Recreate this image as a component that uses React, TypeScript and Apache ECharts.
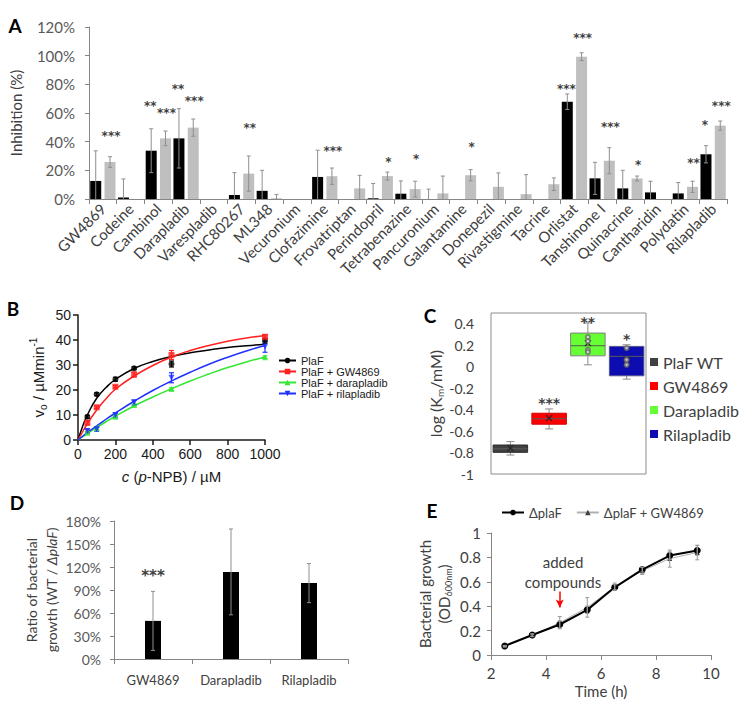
import React, { useEffect, useRef } from 'react';
import * as echarts from 'echarts';

const FONT = 'Lato, "Open Sans", sans-serif';
const ARIAL = '"Liberation Sans", Arial, sans-serif';
const STARFONT = '"DejaVu Sans", sans-serif';

// ---------- Panel A ----------
const drugs = ['GW4869', 'Codeine', 'Cambinol', 'Darapladib', 'Varespladib', 'RHC80267', 'ML348', 'Vecuronium', 'Clofazimine', 'Frovatriptan', 'Perindopril', 'Tetrabenazine', 'Pancuronium', 'Galantamine', 'Donepezil', 'Rivastigmine', 'Tacrine', 'Orlistat', 'Tanshinone I', 'Quinacrine', 'Cantharidin', 'Polydatin', 'Rilapladib'];
const inhibBlack = [12.6, 1, 33.7, 42.3, 0, 2.8, 5.7, 0, 15.4, 0, 0.5, 3.7, 0, 0, 0, 0, 0, 67.9, 14.4, 7.4, 4.6, 3.9, 31.2];
const inhibBlackErr = [21, 13, 15.3, 20.7, 0, 15.6, 14.3, 0, 18.6, 0, 10.3, 8.9, 6.9, 0, 0, 0, 0, 5.4, 11.2, 12.6, 7.8, 7.6, 6];
const inhibGray = [25.8, 0, 42.3, 49.8, 0, 17.7, 0.5, 0, 15.9, 7.4, 16, 6.9, 3.9, 16.6, 8.5, 3.4, 10.3, 99.3, 26.7, 14.3, 0, 8.5, 51.2];
const inhibGrayErr = [3.7, 0, 5.1, 6, 0, 12.3, 2.7, 0, 5.7, 9.1, 2.8, 5.5, 12.1, 3.9, 9.7, 13.6, 4.4, 2.7, 9.1, 1.7, 0, 3.9, 3.2];
// significance marks: [drug index, bar (0 black / 1 gray), mark, level in %]
const sigA: [number, number, string, number][] = [
  [0, 1, '***', 46.5], [2, 0, '**', 67.2], [2, 1, '***', 62.2], [3, 0, '**', 78.8], [3, 1, '***', 70.7],
  [5, 1, '**', 51.6], [8, 1, '***', 35.6], [10, 1, '*', 27.9], [11, 1, '*', 30.2], [13, 1, '*', 38.4],
  [17, 0, '***', 79], [17, 1, '***', 114.9], [18, 1, '***', 52.5], [19, 1, '*', 25.8], [21, 1, '**', 27.2],
  [22, 0, '*', 53.7], [22, 1, '***', 67],
];
const BAR_W = 11;
const BAR_GAP = 0.3;
const barOff = (BAR_W * (1 + BAR_GAP)) / 2;

// ---------- Panel B ----------
const concB = [50, 100, 200, 300, 500, 1000];
const vPlaF = [9.3, 18.3, 24.3, 28.7, 30.4, 39.7];
const vPlaFErr = [0.6, 0.6, 0.8, 0.6, 1.2, 1];
const vGW = [6.9, 13.1, 21.3, 26.2, 34, 41.3];
const vGWErr = [0.8, 0.5, 0.5, 1, 1.8, 0.8];
const vDara = [2.9, 4.7, 9.3, 14, 20.4, 33.1];
const vDaraErr = [0.5, 0.5, 0.6, 0.5, 0.5, 0.5];
const vRila = [3.6, 4.3, 10, 15, 24.9, 37.3];
const vRilaErr = [0.8, 0.8, 0.8, 1, 2, 2.2];
const fitX = [0, 25, 50, 100, 150, 200, 300, 400, 500, 600, 700, 800, 900, 1000];
const fitPlaF = [0, 5.5, 10, 16.7, 21, 24.2, 28.6, 31.4, 33.4, 34.9, 36, 37, 37.7, 38.3];
const fitGW = [0, 3.3, 6.5, 12, 16.5, 20.3, 25.6, 29.8, 33.2, 35.8, 37.8, 39.5, 40.8, 41.8];
const fitDara = [0, 1.3, 2.6, 5, 7.3, 9.5, 13.6, 17.2, 20.5, 23.6, 26.4, 29, 31.2, 33.2];
const fitRila = [0, 1.5, 2.9, 5.7, 8.3, 10.8, 15.5, 19.8, 23.6, 27.1, 30.3, 33.1, 35.6, 37.8];
const legendB = ['PlaF', 'PlaF + GW4869', 'PlaF + darapladib', 'PlaF + rilapladib'];

// ---------- Panel C ----------
const groupsC = ['PlaF WT', 'GW4869', 'Darapladib', 'Rilapladib'];
// [min, q1, median, q3, max, mean]
const boxC = [
  [-0.823, -0.798, -0.765, -0.73, -0.698, -0.757],
  [-0.58, -0.536, -0.485, -0.434, -0.394, -0.48],
  [0.017, 0.101, 0.195, 0.313, 0.407, 0.22],
  [-0.116, -0.085, 0.096, 0.189, 0.204, 0.064],
];
const pointsC = [[2, 0.276], [2, 0.236], [2, 0.157], [2, 0.136], [3, 0.173], [3, 0.064], [3, 0.017]];
const sigC: [number, string, number][] = [[1, '***', -0.3], [2, '**', 0.453], [3, '*', 0.297]];

// ---------- Panel D ----------
const catsD = ['GW4869', 'Darapladib', 'Rilapladib'];
const ratioD = [49.7, 113.6, 99];
const ratioDErr = [38.5, 56, 25.5];
const sigD: [number, string, number][] = [[0, '***', 114]];

// ---------- Panel E ----------
const timeE = [2.5, 3.5, 4.5, 5.5, 6.5, 7.5, 8.5, 9.5];
const odPlaF = [0.074, 0.164, 0.25, 0.37, 0.555, 0.7, 0.815, 0.857];
const odPlaFErr = [0.005, 0.01, 0.03, 0.03, 0.02, 0.02, 0.03, 0.04];
const odGW = [0.07, 0.16, 0.265, 0.39, 0.56, 0.69, 0.79, 0.84];
const odGWErr = [0.005, 0.01, 0.05, 0.08, 0.03, 0.03, 0.07, 0.06];

// ---------- helpers ----------
const errRender = (offsets: number[], cap: number, color: string, clampMin: number | null, width = 1) =>
  (params: any, api: any) => {
    const x = api.value(0);
    const m = api.value(1);
    const e = api.value(2);
    const s = api.value(3) || 0;
    if (!(e > 0)) return null;
    let lo = m - e;
    let clipped = false;
    if (clampMin != null && lo < clampMin) { lo = clampMin; clipped = true; }
    const pTop = api.coord([x, m + e]);
    const pBot = api.coord([x, lo]);
    const cx = pTop[0] + (offsets[s] || 0);
    const st = { stroke: color, lineWidth: width };
    const children: any[] = [
      { type: 'line', shape: { x1: cx, y1: pTop[1], x2: cx, y2: pBot[1] }, style: st },
      { type: 'line', shape: { x1: cx - cap, y1: pTop[1], x2: cx + cap, y2: pTop[1] }, style: st },
    ];
    if (!clipped) children.push({ type: 'line', shape: { x1: cx - cap, y1: pBot[1], x2: cx + cap, y2: pBot[1] }, style: st });
    return { type: 'group', children };
  };

const starRender = (texts: string[], offsets: number[], size: number, color: string) =>
  (params: any, api: any) => {
    const x = api.value(0);
    const y = api.value(1);
    const s = api.value(2) || 0;
    const p = api.coord([x, y]);
    return {
      type: 'text',
      x: p[0] + (offsets[s] || 0),
      y: p[1] + size * 0.27,
      style: {
        text: texts[params.dataIndex],
        fill: color,
        fontSize: size,
        fontWeight: 'bold',
        fontFamily: STARFONT,
        lineHeight: Math.round(size * 0.5),
        align: 'center',
        verticalAlign: 'middle',
      },
    };
  };

const boxRender = (fill: string, stroke: string) => (params: any, api: any) => {
  const i = api.value(0);
  const mn = api.value(1), q1 = api.value(2), md = api.value(3), q3 = api.value(4), mx = api.value(5), mean = api.value(6);
  const bw = api.size([1, 0])[0];
  const half = bw * 0.445;
  const cx = api.coord([i, 0])[0];
  const Y = (v: number) => api.coord([i, v])[1];
  const wst = { stroke: '#8a8a8a', lineWidth: 1 };
  const cap = 4;
  return {
    type: 'group',
    children: [
      { type: 'line', shape: { x1: cx, y1: Y(mx), x2: cx, y2: Y(q3) }, style: wst },
      { type: 'line', shape: { x1: cx, y1: Y(q1), x2: cx, y2: Y(mn) }, style: wst },
      { type: 'line', shape: { x1: cx - cap, y1: Y(mx), x2: cx + cap, y2: Y(mx) }, style: wst },
      { type: 'line', shape: { x1: cx - cap, y1: Y(mn), x2: cx + cap, y2: Y(mn) }, style: wst },
      { type: 'rect', shape: { x: cx - half, y: Y(q3), width: 2 * half, height: Y(q1) - Y(q3) }, style: { fill, stroke, lineWidth: 1 } },
      { type: 'line', shape: { x1: cx - half, y1: Y(md), x2: cx + half, y2: Y(md) }, style: { stroke: '#5a5a5a', lineWidth: 1 } },
      { type: 'line', shape: { x1: cx - 3, y1: Y(mean) - 3, x2: cx + 3, y2: Y(mean) + 3 }, style: { stroke: '#262626', lineWidth: 1.2 } },
      { type: 'line', shape: { x1: cx - 3, y1: Y(mean) + 3, x2: cx + 3, y2: Y(mean) - 3 }, style: { stroke: '#262626', lineWidth: 1.2 } },
    ],
  };
};

const excelAxisLine = { show: true, lineStyle: { color: '#868686', width: 1 } };
const excelTick = { show: true, length: 5, lineStyle: { color: '#868686' } };

const boxColors = [
  ['#404040', '#2a2a2a'],
  ['#ff0000', '#d00000'],
  ['#66ff33', '#7f7f7f'],
  ['#0c0cb0', '#55558a'],
];

function buildOption(): any {
  const series: any[] = [];

  // Panel A
  series.push({
    type: 'bar', xAxisIndex: 0, yAxisIndex: 0, data: inhibBlack, barWidth: BAR_W, barGap: BAR_GAP * 100 + '%',
    itemStyle: { color: '#000000' }, silent: true,
  });
  series.push({
    type: 'bar', xAxisIndex: 0, yAxisIndex: 0, data: inhibGray, barWidth: BAR_W,
    itemStyle: { color: '#bfbfbf' }, silent: true,
  });
  series.push({
    type: 'custom', xAxisIndex: 0, yAxisIndex: 0, z: 5, silent: true,
    renderItem: errRender([-barOff, barOff], 2, '#8f8f8f', 0),
    encode: { x: 0, y: 1 },
    data: [
      ...inhibBlack.map((v, i) => [i, v, inhibBlackErr[i], 0]),
      ...inhibGray.map((v, i) => [i, v, inhibGrayErr[i], 1]),
    ],
  });
  series.push({
    type: 'custom', xAxisIndex: 0, yAxisIndex: 0, z: 6, silent: true,
    renderItem: starRender(sigA.map((s) => s[2]), [-barOff - 1, barOff + 1], 12, '#404040'),
    encode: { x: 0, y: 1 },
    data: sigA.map((s) => [s[0], s[3], s[1]]),
  });

  // Panel B
  const bCols = ['#000000', '#ff2020', '#33e633', '#2030ff'];
  const bSyms = ['circle', 'rect', 'triangle', 'path://M0,0 L10,0 L5,9 Z'];
  const bPts = [vPlaF, vGW, vDara, vRila];
  const bErr = [vPlaFErr, vGWErr, vDaraErr, vRilaErr];
  const bFit = [fitPlaF, fitGW, fitDara, fitRila];
  legendB.forEach((name, k) => {
    series.push({
      type: 'line', name, xAxisIndex: 1, yAxisIndex: 1, smooth: true, showSymbol: false,
      symbol: bSyms[k], symbolSize: 6,
      lineStyle: { color: bCols[k], width: 1.5 }, itemStyle: { color: bCols[k] },
      data: fitX.map((x, i) => [x, bFit[k][i]]), silent: true, z: 3,
    });
    series.push({
      type: 'scatter', xAxisIndex: 1, yAxisIndex: 1, symbol: bSyms[k], symbolSize: 6,
      itemStyle: { color: bCols[k] }, data: concB.map((x, i) => [x, bPts[k][i]]), silent: true, z: 4,
    });
    series.push({
      type: 'custom', xAxisIndex: 1, yAxisIndex: 1, z: 4, silent: true,
      renderItem: errRender([0], 2.5, bCols[k], null, 1.2), encode: { x: 0, y: 1 },
      data: concB.map((x, i) => [x, bPts[k][i], bErr[k][i], 0]),
    });
  });

  // Panel C
  groupsC.forEach((name, k) => {
    series.push({
      type: 'custom', name, xAxisIndex: 2, yAxisIndex: 2, silent: true, z: 3,
      itemStyle: { color: boxColors[k][0], borderColor: boxColors[k][1] },
      renderItem: boxRender(boxColors[k][0], boxColors[k][1]),
      encode: { x: 0, y: [1, 2, 3, 4, 5] },
      data: [[k, ...boxC[k]]],
    });
  });
  series.push({
    type: 'scatter', xAxisIndex: 2, yAxisIndex: 2, symbol: 'emptyCircle', symbolSize: 4, z: 4, silent: true,
    itemStyle: { color: '#6a6a6a', borderWidth: 1 }, data: pointsC,
  });
  series.push({
    type: 'custom', xAxisIndex: 2, yAxisIndex: 2, z: 6, silent: true,
    renderItem: starRender(sigC.map((s) => s[1]), [0], 14, '#404040'),
    encode: { x: 0, y: 1 },
    data: sigC.map((s) => [s[0], s[2], 0]),
  });

  // Panel D
  series.push({
    type: 'bar', xAxisIndex: 3, yAxisIndex: 3, data: ratioD, barWidth: 16, itemStyle: { color: '#000000' }, silent: true,
  });
  series.push({
    type: 'custom', xAxisIndex: 3, yAxisIndex: 3, z: 5, silent: true,
    renderItem: errRender([0], 2, '#8f8f8f', 0), encode: { x: 0, y: 1 },
    data: ratioD.map((v, i) => [i, v, ratioDErr[i], 0]),
  });
  series.push({
    type: 'custom', xAxisIndex: 3, yAxisIndex: 3, z: 6, silent: true,
    renderItem: starRender(sigD.map((s) => s[1]), [0], 15, '#404040'),
    encode: { x: 0, y: 1 },
    data: sigD.map((s) => [s[0], s[2], 0]),
  });

  // Panel E
  series.push({
    type: 'line', name: 'ΔplaF + GW4869', xAxisIndex: 4, yAxisIndex: 4, symbol: 'triangle', symbolSize: 5,
    lineStyle: { color: '#b0b0b0', width: 1 }, itemStyle: { color: '#404040' },
    data: timeE.map((t, i) => [t, odGW[i]]), z: 3, silent: true,
  });
  series.push({
    type: 'line', name: 'ΔplaF', xAxisIndex: 4, yAxisIndex: 4, symbol: 'circle', symbolSize: 7,
    lineStyle: { color: '#000000', width: 2 }, itemStyle: { color: '#000000' },
    data: timeE.map((t, i) => [t, odPlaF[i]]), z: 4, silent: true,
    markLine: {
      silent: true, symbol: ['none', 'arrow'], symbolSize: [6, 8],
      lineStyle: { color: '#ff0000', width: 1.5, type: 'solid' }, label: { show: false },
      data: [[{ coord: [4.5, 0.52] }, { coord: [4.5, 0.39] }]],
    },
    markPoint: {
      silent: true, symbol: 'circle', symbolSize: 0,
      label: { show: true, position: 'inside', formatter: 'added\ncompounds', color: '#404040', fontSize: 15, lineHeight: 20, fontFamily: FONT },
      data: [{ coord: [4.62, 0.68] }],
    },
  });
  series.push({
    type: 'custom', xAxisIndex: 4, yAxisIndex: 4, z: 5, silent: true,
    renderItem: errRender([0], 2, '#9a9a9a', null), encode: { x: 0, y: 1 },
    data: [
      ...timeE.map((t, i) => [t, odPlaF[i], odPlaFErr[i], 0]),
      ...timeE.map((t, i) => [t, odGW[i], odGWErr[i], 0]),
    ],
  });

  const letter = (t: string, x: number, y: number) => ({
    type: 'text', x, y, style: { text: t, font: `bold 19px ${FONT}`, fill: '#000', align: 'center', verticalAlign: 'middle' },
  });

  return {
    animation: false,
    backgroundColor: '#ffffff',
    textStyle: { fontFamily: FONT },
    grid: [
      { left: 87, top: 27, width: 640, height: 172 },
      { left: 78, top: 315, width: 187, height: 125 },
      { left: 491, top: 313, width: 155, height: 161, show: true, borderColor: '#8c8c8c', borderWidth: 1 },
      { left: 114, top: 521, width: 234, height: 138 },
      { left: 491, top: 533, width: 220, height: 122 },
    ],
    xAxis: [
      {
        gridIndex: 0, type: 'category', data: drugs, axisLine: excelAxisLine, axisTick: excelTick,
        axisLabel: { rotate: 45, interval: 0, fontSize: 15, color: '#404040', margin: 7, fontFamily: FONT },
      },
      {
        gridIndex: 1, type: 'value', min: 0, max: 1000, interval: 200,
        axisLine: { show: true, lineStyle: { color: '#1a1a1a', width: 1.5 } },
        axisTick: { show: true, length: 5, lineStyle: { color: '#1a1a1a', width: 1.5 } },
        splitLine: { show: false },
        axisLabel: { fontSize: 14, color: '#1a1a1a', margin: 7, fontFamily: ARIAL, formatter: (v: number) => String(v) },
        name: '{i|c} ({i|p}-NPB) / µM', nameLocation: 'middle', nameGap: 29,
        nameTextStyle: {
          fontSize: 15, color: '#1a1a1a', fontFamily: ARIAL,
          rich: { i: { fontStyle: 'italic', fontSize: 15, fontFamily: ARIAL, color: '#1a1a1a' } },
        },
      },
      { gridIndex: 2, type: 'category', data: groupsC, show: false },
      {
        gridIndex: 3, type: 'category', data: catsD, axisLine: excelAxisLine, axisTick: excelTick,
        axisLabel: { interval: 0, fontSize: 13, color: '#404040', margin: 14, fontFamily: FONT },
      },
      {
        gridIndex: 4, type: 'value', min: 2, max: 10, interval: 2, axisLine: excelAxisLine, axisTick: excelTick,
        splitLine: { show: false },
        axisLabel: { fontSize: 15, color: '#404040', margin: 10, fontFamily: FONT },
        name: 'Time (h)', nameLocation: 'middle', nameGap: 28,
        nameTextStyle: { fontSize: 15, color: '#404040', fontFamily: FONT },
      },
    ],
    yAxis: [
      {
        gridIndex: 0, type: 'value', min: 0, max: 120, interval: 20, axisLine: excelAxisLine, axisTick: { ...excelTick, length: 4 },
        splitLine: { show: false },
        axisLabel: { formatter: '{value}%', fontSize: 15, color: '#595959', margin: 14, fontFamily: FONT },
        name: 'Inhibition (%)', nameLocation: 'middle', nameRotate: 90, nameGap: 66,
        nameTextStyle: { fontSize: 15, color: '#404040', fontFamily: FONT },
      },
      {
        gridIndex: 1, type: 'value', min: 0, max: 50, interval: 10,
        axisLine: { show: true, lineStyle: { color: '#1a1a1a', width: 1.5 } },
        axisTick: { show: true, length: 5, lineStyle: { color: '#1a1a1a', width: 1.5 } },
        splitLine: { show: false },
        axisLabel: { fontSize: 14, color: '#1a1a1a', margin: 7, fontFamily: ARIAL },
        name: 'v{sub|o} / µMmin{sup|-1}', nameLocation: 'middle', nameRotate: 90, nameGap: 30,
        nameTextStyle: {
          fontSize: 15, color: '#1a1a1a', fontFamily: ARIAL, lineHeight: 20,
          rich: {
            sub: { fontSize: 10, fontFamily: ARIAL, color: '#1a1a1a', verticalAlign: 'bottom', lineHeight: 12 },
            sup: { fontSize: 10, fontFamily: ARIAL, color: '#1a1a1a', verticalAlign: 'top', lineHeight: 12 },
          },
        },
      },
      {
        gridIndex: 2, type: 'value', min: -1, max: 0.5, interval: 0.2,
        axisLine: { show: false }, axisTick: { show: false }, splitLine: { show: false },
        axisLabel: {
          fontSize: 14, color: '#404040', margin: 17, fontFamily: FONT, showMaxLabel: false,
          formatter: (v: number) => (v > 0.45 ? '' : String(Math.round(v * 10) / 10)),
        },
        name: 'log (K{sub|m}/mM)', nameLocation: 'middle', nameRotate: 90, nameGap: 36,
        nameTextStyle: {
          fontSize: 16, color: '#404040', fontFamily: FONT, lineHeight: 20,
          rich: { sub: { fontSize: 10, fontFamily: FONT, color: '#404040', verticalAlign: 'bottom', lineHeight: 12 } },
        },
      },
      {
        gridIndex: 3, type: 'value', min: 0, max: 180, interval: 30, axisLine: excelAxisLine, axisTick: { ...excelTick, length: 4 },
        splitLine: { show: false },
        axisLabel: { formatter: '{value}%', fontSize: 14, color: '#595959', margin: 13, fontFamily: FONT },
        name: 'Ratio of bacterial\ngrowth (WT / {i|ΔplaF})', nameLocation: 'middle', nameRotate: 90, nameGap: 52,
        nameTextStyle: {
          fontSize: 14, color: '#404040', fontFamily: FONT, lineHeight: 20,
          rich: { i: { fontStyle: 'italic', fontSize: 14, fontFamily: FONT, color: '#404040', lineHeight: 20 } },
        },
      },
      {
        gridIndex: 4, type: 'value', min: 0, max: 1, interval: 0.2, axisLine: excelAxisLine, axisTick: { ...excelTick, length: 4 },
        splitLine: { show: false },
        axisLabel: { fontSize: 15, color: '#404040', margin: 10, fontFamily: FONT },
        name: 'Bacterial growth\n(OD{sub|600nm})', nameLocation: 'middle', nameRotate: 90, nameGap: 38,
        nameTextStyle: {
          fontSize: 15, color: '#404040', fontFamily: FONT, lineHeight: 19,
          rich: { sub: { fontSize: 9, fontFamily: FONT, color: '#404040', verticalAlign: 'bottom', lineHeight: 14 } },
        },
      },
    ],
    legend: [
      {
        data: legendB, orient: 'vertical', left: 278, top: 355, padding: 0, itemWidth: 17, itemHeight: 7, itemGap: 0,
        textStyle: { fontSize: 11, color: '#1a1a1a', fontFamily: ARIAL, lineHeight: 11 }, selectedMode: false,
      },
      {
        data: groupsC, orient: 'vertical', left: 650, top: 353, padding: 0, icon: 'rect', itemWidth: 8, itemHeight: 8, itemGap: 6,
        textStyle: { fontSize: 16, color: '#404040', fontFamily: FONT, lineHeight: 18 }, selectedMode: false,
      },
      {
        data: ['ΔplaF', 'ΔplaF + GW4869'], orient: 'horizontal', left: 501, top: 506, padding: 0, itemWidth: 22, itemHeight: 7, itemGap: 14,
        textStyle: { fontSize: 13, color: '#404040', fontFamily: FONT }, selectedMode: false,
      },
    ],
    graphic: [
      letter('A', 15, 25),
      letter('B', 13, 308),
      letter('C', 430, 315),
      letter('D', 17, 502),
      letter('E', 432, 510),
    ],
    series,
  };
}

export default function App() {
  const ref = useRef<HTMLDivElement>(null);
  useEffect(() => {
    if (!ref.current) return;
    const chart = echarts.init(ref.current, null, { renderer: 'svg' });
    chart.setOption(buildOption());
    return () => chart.dispose();
  }, []);
  return (
    <div
      ref={ref}
      style={{ position: 'absolute', left: 0, top: 0, width: 745, height: 702, background: '#ffffff' }}
    />
  );
}
